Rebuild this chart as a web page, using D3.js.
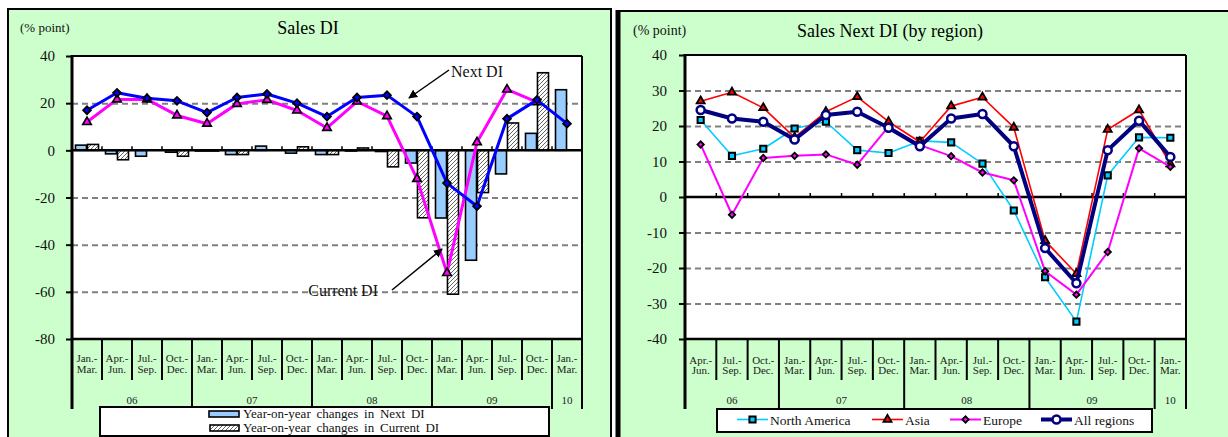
<!DOCTYPE html>
<html>
<head>
<meta charset="utf-8">
<script src="https://cdn.jsdelivr.net/npm/d3@7"></script>
<style>
  html, body { margin: 0; padding: 0; background: #fff; }
  svg { display: block; font-family: "Liberation Serif", "Times New Roman", serif; }
</style>
</head>
<body>
<svg id="chart" width="1228" height="437"></svg>
<script>
// ---------- Sales DI (quarterly, 2006 Q1 - 2010 Q1) ----------
const quartersL = ["Jan.-Mar.", "Apr.-Jun.", "Jul.-Sep.", "Oct.-Dec.",
                   "Jan.-Mar.", "Apr.-Jun.", "Jul.-Sep.", "Oct.-Dec.",
                   "Jan.-Mar.", "Apr.-Jun.", "Jul.-Sep.", "Oct.-Dec.",
                   "Jan.-Mar.", "Apr.-Jun.", "Jul.-Sep.", "Oct.-Dec.",
                   "Jan.-Mar."];
const yearsL = ["06", "06", "06", "06", "07", "07", "07", "07",
                "08", "08", "08", "08", "09", "09", "09", "09", "10"];
const nextDI = [17.0, 24.4, 22.1, 21.0, 16.0, 22.4, 23.9, 20.0,
                14.3, 22.4, 23.4, 14.3, -13.9, -23.7, 13.4, 21.4, 11.3];
const currentDI = [12.0, 21.6, 21.6, 14.8, 11.3, 19.7, 21.4, 16.9,
                   9.5, 20.7, 14.5, -12.1, -52.0, 3.4, 25.8, 20.4, null];
const nextDIChange = [2.2, -1.5, -2.5, -0.8, -0.3, -1.8, 1.8, -1.2,
                      -1.8, -0.3, -0.5, -5.4, -28.7, -46.6, -10.0, 7.2, 25.7];
const currentDIChange = [2.5, -4.0, 0, -2.5, -0.3, -1.8, 0, 1.5,
                         -1.8, 1.0, -7.0, -28.6, -61.0, -17.9, 11.6, 32.9, null];
const yTicksL = [40, 20, 0, -20, -40, -60, -80];
const gridL = [20, -20, -40, -60];

// ---------- Sales Next DI by region (2006 Q2 - 2010 Q1) ----------
const quartersR = ["Apr.-Jun.", "Jul.-Sep.", "Oct.-Dec.",
                   "Jan.-Mar.", "Apr.-Jun.", "Jul.-Sep.", "Oct.-Dec.",
                   "Jan.-Mar.", "Apr.-Jun.", "Jul.-Sep.", "Oct.-Dec.",
                   "Jan.-Mar.", "Apr.-Jun.", "Jul.-Sep.", "Oct.-Dec.",
                   "Jan.-Mar."];
const yearsR = ["06", "06", "06", "07", "07", "07", "07",
                "08", "08", "08", "08", "09", "09", "09", "09", "10"];
const northAmerica = [21.7, 11.6, 13.6, 19.3, 21.2, 13.2, 12.4, 15.8,
                      15.4, 9.4, -3.8, -22.6, -35.1, 6.1, 16.8, 16.7];
const asia = [27.0, 29.5, 25.1, 16.8, 24.0, 28.2, 21.2, 15.5,
              25.6, 28.1, 19.6, -12.3, -21.6, 19.0, 24.5, 9.3];
const europe = [14.8, -5.0, 11.0, 11.6, 12.0, 9.1, 19.8, 14.6,
                11.5, 6.9, 4.7, -20.9, -27.5, -15.5, 13.7, 8.5];
const allRegions = [24.5, 22.1, 21.2, 16.2, 23.1, 24.0, 19.5, 14.3,
                    22.1, 23.4, 14.3, -14.4, -24.3, 13.2, 21.5, 11.3];
const yTicksR = [40, 30, 20, 10, 0, -10, -20, -30, -40];
const gridR = [30, 20, 10, -10, -20, -30];

const GREEN = "#CCFFCC";
const svg = d3.select("#chart");

// ---------- shared defs ----------
const defs = svg.append("defs");
const hatch = defs.append("pattern")
  .attr("id", "hatch").attr("patternUnits", "userSpaceOnUse")
  .attr("width", 4).attr("height", 4);
hatch.append("rect").attr("width", 4).attr("height", 4).attr("fill", "#fff");
hatch.append("path").attr("d", "M-1,1 l2,-2 M0,4 l4,-4 M3,5 l2,-2")
  .attr("stroke", "#555").attr("stroke-width", 0.9);
defs.append("marker")
  .attr("id", "arrow").attr("viewBox", "0 0 10 10")
  .attr("refX", 9).attr("refY", 5)
  .attr("markerWidth", 9).attr("markerHeight", 9)
  .attr("markerUnits", "userSpaceOnUse")
  .attr("orient", "auto")
  .append("path").attr("d", "M0,0 L10,5 L0,10 z").attr("fill", "#000");

// ---------- panel backgrounds ----------
svg.append("rect").attr("x", 8).attr("y", 9).attr("width", 603).attr("height", 440)
  .attr("fill", GREEN).attr("stroke", "#000").attr("stroke-width", 2);
svg.append("rect").attr("x", 618).attr("y", 11).attr("width", 620).attr("height", 440)
  .attr("fill", GREEN).attr("stroke", "#000").attr("stroke-width", 2);
svg.append("line").attr("x1", 618).attr("x2", 618).attr("y1", 10).attr("y2", 437)
  .attr("stroke", "#000").attr("stroke-width", 5);

// ---------- frame, grid, axes for one chart ----------
function drawFrame(cfg) {
  const { x, y, quarters, years, gridVals, yTicks, tickPad, labY, yearY, catFont } = cfg;
  const [x0, x1] = x.range();
  const [yb, yt] = y.range();
  const g = svg.append("g");

  g.append("rect").attr("x", x0).attr("y", yt).attr("width", x1 - x0).attr("height", yb - yt)
    .attr("fill", "#fff");

  // dashed gridlines
  g.append("g").attr("transform", `translate(${x0},0)`)
    .call(d3.axisLeft(y).tickValues(gridVals).tickSize(-(x1 - x0)).tickFormat(""))
    .call(a => a.select(".domain").remove())
    .call(a => a.selectAll("line").attr("stroke", "#808080")
      .attr("stroke-width", 2).attr("stroke-dasharray", "6,4"));

  // y axis with outward ticks
  g.append("g").attr("transform", `translate(${x0},0)`)
    .call(d3.axisLeft(y).tickValues(yTicks).tickSize(6).tickPadding(tickPad).tickFormat(d => String(d)))
    .call(a => a.select(".domain").remove())
    .call(a => a.selectAll("line").attr("stroke", "#000").attr("stroke-width", 2))
    .call(a => a.selectAll("text").attr("font-size", 15).attr("fill", "#111")
      .attr("font-family", "Liberation Serif, Times New Roman, serif"));

  // category separators under the plot
  const bw = x.step();
  const n = quarters.length;
  const bottom = 409;
  for (let i = 0; i <= n; i++) {
    const xi = x0 + i * bw;
    const isYear = i === 0 || i === n || years[i] !== years[i - 1];
    g.append("line").attr("x1", xi).attr("x2", xi)
      .attr("y1", yb).attr("y2", isYear ? bottom : 380)
      .attr("stroke", "#000").attr("stroke-width", 2);
  }

  // quarter labels (two lines)
  quarters.forEach((q, i) => {
    const parts = q.split("-");
    const t = g.append("text").attr("text-anchor", "middle")
      .attr("font-size", catFont).attr("fill", "#222");
    t.append("tspan").attr("x", x(i) + bw / 2).attr("y", labY[0]).text(parts[0] + "-");
    t.append("tspan").attr("x", x(i) + bw / 2).attr("y", labY[1]).text(parts[1]);
  });

  // year labels centred on their quarters
  const spans = [];
  years.forEach((yr, i) => {
    if (!spans.length || spans[spans.length - 1].yr !== yr) spans.push({ yr, s: i, e: i });
    else spans[spans.length - 1].e = i;
  });
  g.selectAll(null).data(spans).join("text")
    .attr("x", d => (x(d.s) + x(d.e) + bw) / 2).attr("y", yearY)
    .attr("text-anchor", "middle").attr("font-size", 11).attr("fill", "#222")
    .text(d => d.yr);

  return g;
}

function drawBorders(cfg) {
  const { x, y, zeroW } = cfg;
  const [x0, x1] = x.range();
  const [yb, yt] = y.range();
  const g = svg.append("g");
  const bw = x.step();
  const y0 = y(0);
  // zero line with small upward ticks at category boundaries
  g.append("line").attr("x1", x0).attr("x2", x1).attr("y1", y0).attr("y2", y0)
    .attr("stroke", "#000").attr("stroke-width", zeroW);
  for (let i = 1; i < x.domain().length; i++) {
    g.append("line").attr("x1", x0 + i * bw).attr("x2", x0 + i * bw)
      .attr("y1", y0).attr("y2", y0 - 4).attr("stroke", "#000").attr("stroke-width", 1.5);
  }
  g.append("line").attr("x1", x0).attr("x2", x1).attr("y1", yt).attr("y2", yt)
    .attr("stroke", "#000").attr("stroke-width", 2);
  g.append("line").attr("x1", x1).attr("x2", x1).attr("y1", yt).attr("y2", 409)
    .attr("stroke", "#000").attr("stroke-width", 2);
  g.append("line").attr("x1", x0).attr("x2", x1).attr("y1", yb).attr("y2", yb)
    .attr("stroke", "#000").attr("stroke-width", 2.5);
  g.append("line").attr("x1", x0).attr("x2", x0).attr("y1", yt - 1).attr("y2", 409)
    .attr("stroke", "#000").attr("stroke-width", 3);
}

function markerPath(type, size) {
  return d3.symbol().type(type).size(size)();
}

function drawSeries(g, x, y, values, st) {
  const bw = x.step();
  const line = d3.line()
    .defined(d => d != null)
    .x((d, i) => x(i) + bw / 2)
    .y(d => y(d));
  g.append("path").datum(values).attr("d", line)
    .attr("fill", "none").attr("stroke", st.color).attr("stroke-width", st.width)
    .attr("stroke-linejoin", "round");
  const pts = values.map((v, i) => ({ v, i })).filter(d => d.v != null);
  g.selectAll(null).data(pts).join("path")
    .attr("d", markerPath(st.symbol, st.size))
    .attr("transform", d => `translate(${x(d.i) + bw / 2},${y(d.v)})` + (st.rotate ? " rotate(45)" : ""))
    .attr("fill", st.fill).attr("stroke", st.stroke).attr("stroke-width", st.sw);
}

// =================== LEFT: Sales DI ===================
const xL = d3.scaleBand().domain(d3.range(quartersL.length)).range([72, 582]);
const yL = d3.scaleLinear().domain([-80, 40]).range([339, 56]);

drawFrame({ x: xL, y: yL, quarters: quartersL, years: yearsL, gridVals: gridL, yTicks: yTicksL,
            tickPad: 11, labY: [362, 373], yearY: 404, catFont: 11 });

const gL = svg.append("g");
// year-on-year change bars
const sub = d3.scaleBand().domain(["next", "current"]).range([3.5, 26.5]).paddingInner(0.08);
const barRows = nextDIChange.map((v, i) => ({ i, key: "next", v }))
  .concat(currentDIChange.map((v, i) => ({ i, key: "current", v })))
  .filter(d => d.v != null);
gL.selectAll(null).data(barRows).join("rect")
  .attr("x", d => xL(d.i) + sub(d.key))
  .attr("width", sub.bandwidth())
  .attr("y", d => yL(Math.max(0, d.v)))
  .attr("height", d => Math.abs(yL(d.v) - yL(0)))
  .attr("fill", d => d.key === "next" ? "#99CCFF" : "url(#hatch)")
  .attr("stroke", "#000").attr("stroke-width", 1.6);

drawBorders({ x: xL, y: yL, zeroW: 2.5 });

const gLL = svg.append("g");
drawSeries(gLL, xL, yL, currentDI, { color: "#FF00FF", width: 3, symbol: d3.symbolTriangle, size: 32,
  fill: "#FF00FF", stroke: "#000", sw: 1.6 });
drawSeries(gLL, xL, yL, nextDI, { color: "#0000FF", width: 3, symbol: d3.symbolSquare, size: 30, rotate: true,
  fill: "#0000FF", stroke: "#000", sw: 1.8 });

// callouts
svg.append("text").attr("x", 451).attr("y", 77).attr("font-size", 16).attr("fill", "#111").text("Next DI");
svg.append("line").attr("x1", 449).attr("y1", 70).attr("x2", 409).attr("y2", 98)
  .attr("stroke", "#000").attr("stroke-width", 1.5).attr("marker-end", "url(#arrow)");
svg.append("text").attr("x", 378).attr("y", 296).attr("text-anchor", "end")
  .attr("font-size", 16).attr("fill", "#111").text("Current DI");
svg.append("line").attr("x1", 392).attr("y1", 290).attr("x2", 442).attr("y2", 249)
  .attr("stroke", "#000").attr("stroke-width", 1.5).attr("marker-end", "url(#arrow)");

// titles
svg.append("text").attr("x", 20).attr("y", 32).attr("font-size", 13).attr("fill", "#111").text("(% point)");
svg.append("text").attr("x", 308).attr("y", 34).attr("text-anchor", "middle")
  .attr("font-size", 18).attr("fill", "#000").text("Sales DI");

// legend
const lgL = svg.append("g");
lgL.append("rect").attr("x", 100).attr("y", 407).attr("width", 449).attr("height", 29)
  .attr("fill", "#fff").attr("stroke", "#000").attr("stroke-width", 2);
lgL.append("rect").attr("x", 209).attr("y", 411).attr("width", 30).attr("height", 6)
  .attr("fill", "#99CCFF").attr("stroke", "#000").attr("stroke-width", 1.6);
lgL.append("rect").attr("x", 210).attr("y", 425).attr("width", 29).attr("height", 6)
  .attr("fill", "url(#hatch)").attr("stroke", "#000").attr("stroke-width", 1.6);
lgL.append("text").attr("x", 243).attr("y", 418).attr("font-size", 13).attr("word-spacing", 2.5)
  .attr("fill", "#111").text("Year-on-year changes in Next DI");
lgL.append("text").attr("x", 243).attr("y", 432).attr("font-size", 13).attr("word-spacing", 2.5)
  .attr("fill", "#111").text("Year-on-year changes in Current DI");

// =================== RIGHT: Sales Next DI by region ===================
const xR = d3.scaleBand().domain(d3.range(quartersR.length)).range([685, 1186]);
const yR = d3.scaleLinear().domain([-40, 40]).range([339, 55]);

drawFrame({ x: xR, y: yR, quarters: quartersR, years: yearsR, gridVals: gridR, yTicks: yTicksR,
            tickPad: 12, labY: [364, 374], yearY: 404, catFont: 11 });
drawBorders({ x: xR, y: yR, zeroW: 2.5 });

const seriesR = [
  { name: "North America", values: northAmerica,
    st: { color: "#00CCFF", width: 1.6, symbol: d3.symbolSquare, size: 38, fill: "#00CCFF", stroke: "#000", sw: 2 } },
  { name: "Asia", values: asia,
    st: { color: "#FF0000", width: 1.6, symbol: d3.symbolTriangle, size: 28, fill: "#FF0000", stroke: "#000", sw: 1.8 } },
  { name: "Europe", values: europe,
    st: { color: "#FF00FF", width: 2, symbol: d3.symbolSquare, size: 20, rotate: true, fill: "#FF00FF", stroke: "#000", sw: 1.8 } },
  { name: "All regions", values: allRegions,
    st: { color: "#000080", width: 4, symbol: d3.symbolCircle, size: 50, fill: "#fff", stroke: "#000080", sw: 2.5 } }
];
const gR = svg.append("g");
seriesR.forEach(s => drawSeries(gR, xR, yR, s.values, s.st));

svg.append("text").attr("x", 633).attr("y", 35).attr("font-size", 14).attr("fill", "#111").text("(% point)");
svg.append("text").attr("x", 890).attr("y", 37).attr("text-anchor", "middle")
  .attr("font-size", 18).attr("fill", "#000").text("Sales Next DI (by region)");

// legend
const lgR = svg.append("g");
lgR.append("rect").attr("x", 717).attr("y", 409).attr("width", 435).attr("height", 23)
  .attr("fill", "#fff").attr("stroke", "#000").attr("stroke-width", 2);
const legendX = [737, 872, 950, 1041];
seriesR.forEach((s, k) => {
  const lx = legendX[k], ly = 419.5;
  lgR.append("line").attr("x1", lx).attr("x2", lx + 31).attr("y1", ly).attr("y2", ly)
    .attr("stroke", s.st.color).attr("stroke-width", s.st.width);
  lgR.append("path").attr("d", markerPath(s.st.symbol, s.st.size))
    .attr("transform", `translate(${lx + 15.5},${ly})` + (s.st.rotate ? " rotate(45)" : ""))
    .attr("fill", s.st.fill).attr("stroke", s.st.stroke).attr("stroke-width", s.st.sw);
  lgR.append("text").attr("x", lx + 33).attr("y", ly + 5).attr("font-size", 13.5)
    .attr("fill", "#111").text(s.name);
});
</script>
</body>
</html>
